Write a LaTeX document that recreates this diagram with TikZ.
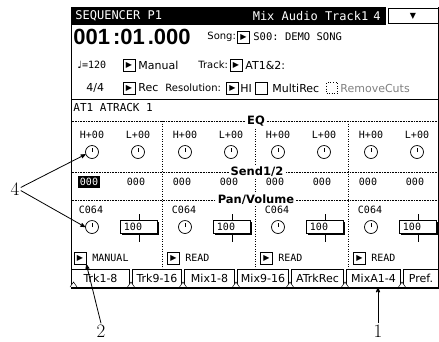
\documentclass[tikz,border=0pt]{standalone}
\usepackage{fontspec}
\setsansfont{DejaVu Sans}
\setmonofont{DejaVu Sans Mono}
\newfontfamily\posfont{Liberation Sans}
\newfontfamily\symfont{DejaVu Sans}
\usetikzlibrary{arrows,shadows}

\begin{document}
\begin{tikzpicture}[x=1pt,y=-1pt,-,>=stealth',thick,
  lcd/.style={inner sep=0pt,font=\ttfamily\fontsize{10}{10}\selectfont},
  word/.style={inner sep=0pt,anchor=west,font=\sffamily\fontsize{11}{11}\selectfont},
  small word/.style={word,font=\sffamily\fontsize{10}{10}\selectfont},
  head/.style={fill=white,inner sep=1.5pt,font=\sffamily\bfseries\fontsize{11.5}{11.5}\selectfont},
  play box/.style={draw,line width=0.8pt,minimum size=12pt,inner sep=0pt,fill=white,
    general shadow={fill=black,shadow xshift=0.8pt,shadow yshift=-0.8pt},
    font=\symfont\fontsize{8}{8}\selectfont},
  knob/.style={circle,draw,line width=0.7pt,minimum size=13pt,inner sep=0pt,
    path picture={\draw[-,line width=0.7pt] (path picture bounding box.center) -- ++(0,-4.5);}},
  vol box/.style={draw,line width=0.8pt,minimum width=37pt,minimum height=13pt,inner sep=0pt,fill=white,
    general shadow={fill=black,shadow xshift=1.2pt,shadow yshift=-1.2pt},
    font=\ttfamily\fontsize{10}{10}\selectfont},
  tab/.style={draw,line width=0.8pt,minimum height=18pt,inner sep=0pt,
    font=\sffamily\fontsize{11}{11}\selectfont},
  callout/.style={inner sep=1pt,font=\fontsize{19}{19}\selectfont}]
  \useasboundingbox (0,0) rectangle (439,341);

  % screen frame and title bar
  \draw[line width=0.8pt] (71.5,7) -- (71.5,288) (438.5,7) -- (438.5,288);
  \fill (71,7) rectangle (386,25);
  \node[lcd,white,anchor=west,font=\ttfamily\fontsize{12}{12}\selectfont] (title) at (75,16) {SEQUENCER P1};
  \node[lcd,white,anchor=east,font=\ttfamily\fontsize{12}{12}\selectfont] (trackname) at (381,16) {Mix Audio Track1\hspace{5pt}4};
  \node[draw,line width=0.8pt,minimum width=50pt,minimum height=15pt,fill=white,
    general shadow={fill=black,shadow xshift=0.8pt,shadow yshift=-0.8pt}] (menu) at (413,16) {\symfont\fontsize{8}{8}\selectfont ▼};

  % song, tempo, track
  \node[anchor=west,inner sep=0pt,font=\posfont\bfseries\fontsize{22}{22}\selectfont] (locate) at (73,37) {001\hspace{3pt}:01\hspace{3pt}.000};
  \node[small word] (songlbl) at (207,37) {Song:};
  \node[play box] (songbtn) at (243.5,37) {▶};
  \node[lcd,anchor=west,font=\ttfamily\fontsize{10.5}{10.5}\selectfont] (songname) at (253,37) {S00: DEMO SONG};

  \node[word,font=\ttfamily\fontsize{10}{10}\selectfont] (tempo) at (77,65) {{\symfont ♩}=120};
  \node[play box] (modebtn) at (129,65) {▶};
  \node[word] (modeval) at (138,65) {Manual};
  \node[small word] (tracklbl) at (198,65) {Track:};
  \node[play box] (trackbtn) at (236,65) {▶};
  \node[word] (trackval) at (245,65) {AT1\&2:};

  \node[word] (meter) at (86,88) {4/4};
  \node[play box] (recbtn) at (129,88) {▶};
  \node[word] (recval) at (138,88) {Rec};
  \node[small word] (reslbl) at (165,88) {Resolution:};
  \node[play box] (resbtn) at (232.5,88) {▶};
  \node[word] (resval) at (240,88) {HI};
  \node[draw,line width=0.8pt,minimum size=12pt,inner sep=0pt] (multibox) at (261,88) {};
  \node[word] (multival) at (272,88) {MultiRec};
  \node[draw,dotted,line width=0.6pt,minimum size=11pt,inner sep=0pt] (cutbox) at (332,88) {};
  \node[word,gray] (cutval) at (340,88) {RemoveCuts};

  \draw[line width=0.8pt] (71.5,99) -- (438.5,99);
  \node[lcd,anchor=west,font=\ttfamily\fontsize{11}{11}\selectfont] (atrack) at (73,107) {AT1 ATRACK 1};

  % mixer grid
  \draw[dash pattern=on 1pt off 1.5pt,line width=0.6pt] (162,121) -- (162,269) (255,121) -- (255,269) (348,121) -- (348,269);
  \draw[dash pattern=on 0.8pt off 0.8pt,line width=0.5pt] (71.5,121) -- (438.5,121) (71.5,172) -- (438.5,172) (71.5,200) -- (438.5,200);
  \node[head] (eq) at (256,121) {EQ};
  \node[head] (send) at (257,172) {Send1/2};
  \node[head] (panvol) at (256,200) {Pan/Volume};

  \node[lcd] (eqH1) at (92,135) {H+00};
  \node[lcd] (eqL1) at (138,135) {L+00};
  \node[lcd] (eqH2) at (185,135) {H+00};
  \node[lcd] (eqL2) at (231,135) {L+00};
  \node[lcd] (eqH3) at (278,135) {H+00};
  \node[lcd] (eqL3) at (324,135) {L+00};
  \node[lcd] (eqH4) at (371,135) {H+00};
  \node[lcd] (eqL4) at (417,135) {L+00};

  \node[knob] (knobH1) at (92,152) {};
  \node[knob] (knobL1) at (138,152) {};
  \node[knob] (knobH2) at (185,152) {};
  \node[knob] (knobL2) at (231,152) {};
  \node[knob] (knobH3) at (278,152) {};
  \node[knob] (knobL3) at (324,152) {};
  \node[knob] (knobH4) at (371,152) {};
  \node[knob] (knobL4) at (417,152) {};

  \node[lcd,fill=black,text=white,inner sep=2pt] (send1) at (89,182) {000};
  \node[lcd] (send2) at (136,182) {000};
  \node[lcd] (send3) at (182,182) {000};
  \node[lcd] (send4) at (229,182) {000};
  \node[lcd] (send5) at (275,182) {000};
  \node[lcd] (send6) at (322,182) {000};
  \node[lcd] (send7) at (368,182) {000};
  \node[lcd] (send8) at (415,182) {000};

  \node[lcd] (pan1) at (91,210) {C064};
  \node[lcd] (pan2) at (184,210) {C064};
  \node[lcd] (pan3) at (277,210) {C064};
  \node[lcd] (pan4) at (370,210) {C064};
  \node[knob] (knobP1) at (92,227) {};
  \node[knob] (knobP2) at (185,227) {};
  \node[knob] (knobP3) at (278,227) {};
  \node[knob] (knobP4) at (371,227) {};
  \node[vol box] (vol1) at (139,227) {100\hspace*{12pt}};
  \node[vol box] (vol2) at (232,227) {100\hspace*{12pt}};
  \node[vol box] (vol3) at (325,227) {100\hspace*{12pt}};
  \node[vol box] (vol4) at (418,227) {100\hspace*{12pt}};
  \draw[line width=0.7pt] (vol1.north) -- ++(0,-6) (vol1.south) -- ++(0,8)
    (vol2.north) -- ++(0,-6) (vol2.south) -- ++(0,8)
    (vol3.north) -- ++(0,-6) (vol3.south) -- ++(0,8)
    (vol4.north) -- ++(0,-6) (vol4.south) -- ++(0,8);

  \node[play box] (mode1) at (80,258) {▶};
  \node[play box] (mode2) at (173.5,258) {▶};
  \node[play box] (mode3) at (266.5,258) {▶};
  \node[play box] (mode4) at (359.5,258) {▶};
  \node[lcd,anchor=west] (modeval1) at (92,258) {MANUAL};
  \node[lcd,anchor=west] (modeval2) at (185,258) {READ};
  \node[lcd,anchor=west] (modeval3) at (278,258) {READ};
  \node[lcd,anchor=west] (modeval4) at (371,258) {READ};

  % tabs
  \node[tab,minimum width=58pt] (tab1) at (100.5,278) {Trk1-8};
  \node[tab,minimum width=49pt] (tab2) at (157,278) {Trk9-16};
  \node[tab,minimum width=50pt] (tab3) at (209.5,278) {Mix1-8};
  \node[tab,minimum width=51pt] (tab4) at (263,278) {Mix9-16};
  \node[tab,minimum width=52pt] (tab5) at (317.5,278) {ATrkRec};
  \node[tab,minimum width=54pt] (tab6) at (373.5,278) {MixA1-4};
  \node[tab,minimum width=35pt] (tab7) at (421,278) {Pref.};
  \draw[fill=white,line width=0.5pt] (70,287) -- (73.5,282) -- (77,287)
    (127.5,287) -- (131,282) -- (134.5,287) (179.5,287) -- (183,282) -- (186.5,287)
    (232.5,287) -- (236,282) -- (239.5,287) (286.5,287) -- (290,282) -- (293.5,287)
    (341.5,287) -- (345,282) -- (348.5,287) (398.5,287) -- (402,282) -- (405.5,287);
  \draw[line width=2pt] (71,288) -- (439,288);

  % callouts
  \node[callout] (num4) at (15,189) {4};
  \node[callout] (num2) at (101,331) {2};
  \node[callout] (num1) at (378,331) {1};
  \draw[->] (num4.15) -- (knobH1.200);
  \draw[->] (num4.-15) -- (knobP1.west);
  \draw[->] (num2.north) -- (mode1.south east);
  \draw[->] (num1.north) -- (num1.north |- tab6.south);
\end{tikzpicture}
\end{document}
